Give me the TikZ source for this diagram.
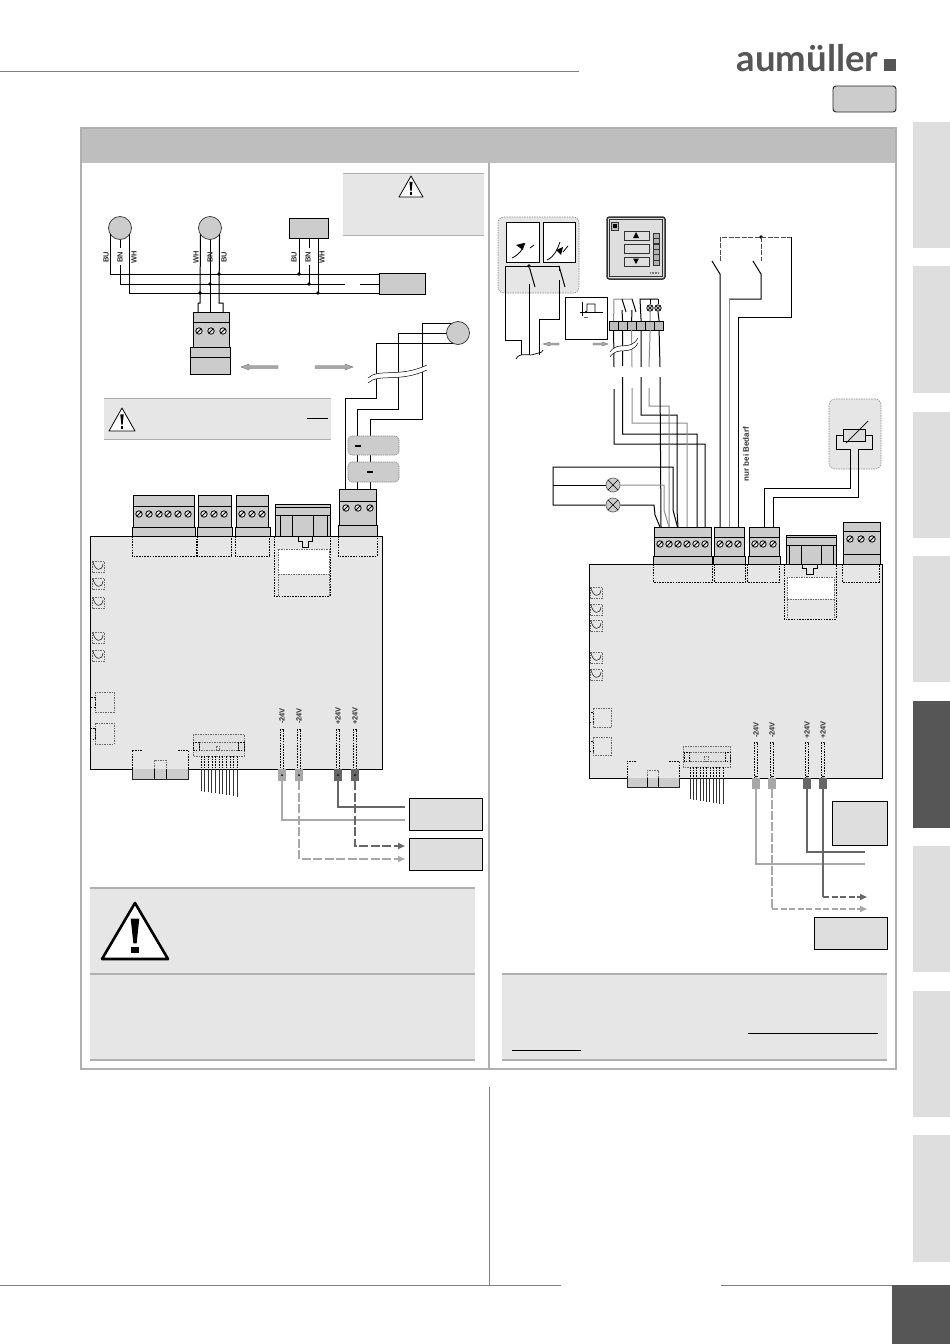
\documentclass[tikz,border=0pt]{standalone}
\usepackage{fontspec}
\setmainfont{Liberation Sans}
\newfontfamily\logofont{Lato}
\usetikzlibrary{arrows.meta}
\definecolor{cFrame}{HTML}{B0B0B0}
\definecolor{cHead}{HTML}{BEBEBE}
\definecolor{cPanel}{HTML}{E6E6E6}
\definecolor{cTab}{HTML}{DEDEDE}
\definecolor{cDark}{HTML}{565656}
\definecolor{cComp}{HTML}{CCCCCC}
\definecolor{cWireG}{HTML}{8C8C8C}
\definecolor{cLG}{HTML}{A8A8A8}
\definecolor{cDG}{HTML}{666666}
\newcommand\boxn[6][]{%
  \pgfmathsetmacro\boxw{#5-(#3)}\pgfmathsetmacro\boxh{#6-(#4)}%
  \pgfmathsetmacro\boxx{(#3+#5)/2}\pgfmathsetmacro\boxy{(#4+#6)/2}%
  \node[rectangle,inner sep=0pt,outer sep=0pt,minimum width=\boxw pt,minimum height=\boxh pt,#1] (#2) at (\boxx,\boxy) {};}
\newcommand\screw[2]{\filldraw[fill=black!8,draw=black,line width=.8pt] (#1,#2) circle (3.2);
  \draw[line width=.95pt] ({#1-2.2},{#2+2.2}) -- ({#1+2.2},{#2-2.2});}
\newcommand\warntri[5]{\draw[fill=white,line join=round,line width=#5] (#1,#2) -- ({#1-#3},{#2+#4}) -- ({#1+#3},{#2+#4}) -- cycle;
  \fill[black] ({#1-.13*#3},{#2+.28*#4}) -- ({#1+.13*#3},{#2+.28*#4}) -- ({#1+.05*#3},{#2+.72*#4}) -- ({#1-.05*#3},{#2+.72*#4}) -- cycle;
  \fill[black] ({#1-.11*#3},{#2+.78*#4}) rectangle ({#1+.11*#3},{#2+.9*#4});}
\newcommand\ledb[2]{\draw[dashb] (#1,#2) rectangle ({#1+12},{#2+11.5});
  \draw[line width=.6pt,draw=black!85] ({#1+1},{#2+1}) .. controls ({#1+3},{#2+10}) and ({#1+10},{#2+11}) .. ({#1+11},{#2+3});}
\newcommand\termb[9]{%
  \boxn[comp]{#1}{#2}{#4}{#3}{#6}
  \draw[comp line] (#2,#5) -- (#3,#5);
  \boxn[comp]{#1b}{#8}{#6}{#9}{#7}}
\tikzset{
  wire/.style={line width=1pt,draw=black,line join=miter},
  gwire/.style={line width=1pt,draw=cWireG},
  comp/.style={draw=black,fill=cComp,line width=.9pt},
  comp line/.style={draw=black,line width=.9pt},
  motor/.style={circle,draw=black!80,fill=cComp,line width=.7pt,minimum size=23pt,inner sep=0pt,outer sep=0pt},
  dashk/.style={draw=black,line width=.8pt,dash pattern=on 1.6pt off 1.1pt},
  dashb/.style={draw=black!60,line width=.65pt,dash pattern=on 1.5pt off 1pt},
  pcb/.style={draw=black,fill=cPanel,line width=.9pt},
  dot/.style={fill=black,circle,inner sep=0pt,minimum size=3.8pt},
  lbl/.style={font=\fontsize{7.5}{8}\selectfont\bfseries,text=black!80,rotate=90,inner sep=.6pt},
  hwire/.style={line width=2.7pt},
  hwirer/.style={line width=2.2pt},
  arrtip/.style={-{Triangle[length=7pt,width=6pt]}},
  softbox/.style={fill=cComp,draw=black!45,line width=.6pt,dash pattern=on 1.5pt off .7pt,rounded corners=4pt},
  areabox/.style={fill=cPanel,draw=black!45,line width=.6pt,dash pattern=on 1.5pt off 1pt,rounded corners=6pt},
  lamp/.style={circle,draw=black!60,fill=cComp,line width=.7pt,minimum size=14pt,inner sep=0pt},
  lampS/.style={circle,draw=black,fill=cComp,line width=.7pt,minimum size=6.5pt,inner sep=0pt},
  grarrow/.style={fill=cLG,draw=black!55,line width=.4pt},
}
\begin{document}
\begin{tikzpicture}[x=1pt,y=-1pt]
\useasboundingbox (0,0) rectangle (950,1344);
\fill[white] (0,0) rectangle (950,1344);
% page furniture
\draw[black!50,line width=1pt] (0,71) -- (579,71);
\node[anchor=base west,inner sep=0pt,text=cDark,font=\logofont\fontsize{36.5}{37}\selectfont\bfseries] (logo) at (736.5,71) {aumüller};
\fill[cDark] (884,59) rectangle (896,71);
\draw[black!85,fill=cComp,rounded corners=3pt,line width=.9pt] (833,86) rectangle (896,112);
\foreach \a/\b in {122/248,266/393,412/538,556/682,846/972,991/1117,1135/1262}
  \fill[cTab] (913,\a) rectangle (950,\b);
\fill[cDark] (913,701) rectangle (950,828);
\draw[black!50,line width=.9pt] (0,1285) -- (561,1285) (721,1285) -- (892,1285);
\draw[black!50,line width=.9pt] (489,1087) -- (489,1285);
\fill[cDark] (892,1285) rectangle (950,1344);
% frame
\fill[cHead] (81,128) rectangle (896,163);
\draw[cFrame,line width=2pt] (81,128) rectangle (896,1069);
\draw[cFrame,line width=2pt] (489,163) -- (489,1069);
% ========== LEFT ==========
\fill[cPanel] (343,173) rectangle (484,235);
\draw[cFrame,line width=1pt] (343,173) -- (484,173) (343,235) -- (484,235);
\warntri{411}{176}{12}{21}{.8pt}
\node[motor] (M1) at (120,228) {};
\node[motor] (M2) at (210,228) {};
\boxn[comp]{SB}{289}{218}{328}{238}
\boxn[comp,draw=black,line width=.9pt]{MB}{379}{273}{425}{294}
\coordinate (mbU) at (379,274); \coordinate (mbN) at (379,284); \coordinate (mbW) at (379,293);
\termb{TL}{193}{229}{312}{322}{347}{374}{190}{230}
\draw[comp line] (190,357) -- (230,357);
\foreach \x in {199,211,223} {\screw{\x}{331}}
% bus
\draw[wire] (M1.214) |- (mbU);
\draw[wire] (M1.270) -- (120,248) (120,265) -- (120,284) -- (345,284) (360,284) -- (mbN);
\draw[wire] (M1.326) |- (mbW);
\draw[wire] (M2.214) -- (200,303) -- (198,303) -- (198,312);
\draw[wire] (M2.270) -- (210,312);
\draw[wire] (M2.326) -- (219,303) -- (223,303) -- (223,312);
\draw[wire] (299,238) -- (299,274);
\draw[wire] (309,238) -- (309,248) (309,265) -- (309,284);
\draw[wire] (318,238) -- (318,293);
\foreach \n/\p in {a/{200,293},b/{210,284},c/{219,274},d/{299,274},e/{309,284},f/{318,293}}
  \node[dot] (j\n) at (\p) {};
\node[lbl] (l1) at (106,257) {BU};
\node[lbl] (l2) at (120,257) {BN};
\node[lbl] (l3) at (134,257) {WH};
\node[lbl] (l4) at (196,257) {WH};
\node[lbl] (l5) at (210,257) {BN};
\node[lbl] (l6) at (224,257) {BU};
\node[lbl] (l7) at (294,257) {BU};
\node[lbl] (l8) at (308,257) {BN};
\node[lbl] (l9) at (322,257) {WH};
% arrows
\filldraw[grarrow] (278,365.5) -- (249,365.5) -- (249,364) -- (241,367) -- (249,370) -- (249,368.5) -- (278,368.5) -- cycle;
\filldraw[grarrow] (315,365.5) -- (345,365.5) -- (345,364) -- (353,367) -- (345,370) -- (345,368.5) -- (315,368.5) -- cycle;
% right motor
\coordinate (te1) at (345,489); \coordinate (te2) at (357,489); \coordinate (te3) at (370,489);
\draw[wire] (458,343) -- (376,343) -- (376,398) -- (345,398) -- (te1);
\draw[wire] (458,333) -- (398,333) -- (398,409) -- (357,409) -- (te2);
\draw[wire] (458,323) -- (422,323) -- (422,419) -- (370,419) -- (te3);
\node[motor] (M3) at (458,333) {};
\fill[white] (368,378) .. controls (378,368) and (400,378) .. (427,365) -- (427,370) .. controls (400,383) and (378,373) .. (368,383) -- cycle;
\draw[black,line width=.5pt] (368,378) .. controls (378,368) and (400,378) .. (427,365)
  (368,383) .. controls (378,373) and (400,383) .. (427,370);
\boxn[softbox]{SA}{348}{436}{399}{455}
\boxn[softbox]{SC}{348}{462}{399}{482}
\fill[black] (355,445) rectangle (361,447);
\fill[black] (367,471) rectangle (373,473);
% warning 2
\fill[cPanel] (104,398) rectangle (331,439);
\draw[cFrame,line width=.8pt] (104,398) -- (331,398) (104,439) -- (331,439);
\warntri{122}{408}{13}{23}{.8pt}
\draw[black,line width=.7pt] (307,418) -- (328,418);
% PCB left
\boxn[pcb]{PL}{90}{536}{382}{769}
\termb{A}{133}{194}{495}{506}{527}{536}{132}{195}
\termb{B}{198}{231}{495}{506}{527}{536}{197}{232}
\termb{C}{236}{268}{495}{506}{527}{536}{235}{270}
\termb{E}{339}{376}{489}{501}{525}{536}{338}{377}
\foreach \x in {139,149,159,168,178,188,204,214,224,242,252,262} {\screw{\x}{514}}
\foreach \x in {346,358,370} {\screw{\x}{508}}
\boxn[comp,line width=.8pt]{D}{275}{504}{330}{536}
\draw[comp line] (275,507) -- (330,507) (275,515) -- (330,515);
\draw[comp line] (280,515) -- (280,536) (292,515) -- (292,536) (313,515) -- (313,536) (327,515) -- (327,536);
\foreach \a/\b in {132/196,197/231,235/269,338/377} \draw[dashk] (\a,536) -- (\a,556) -- (\b,556) -- (\b,536);
\draw[dashk] (274,536) -- (274,596) -- (330,596) -- (330,536);
\fill[white] (278,549) rectangle (329,574);
\draw[dashb] (278,549) rectangle (329,574) (278,574) -- (278,596) (329,574) -- (329,596);
\draw[line width=.5pt] (298,536) -- (298,541) -- (302,541) -- (302,547) -- (308,547) -- (308,541) -- (312,541) -- (312,536);
\foreach \y in {561,578,597,632,650} {\ledb{92}{\y}}
\draw[dashb] (95,692) rectangle (114,712) (95,723) rectangle (114,744);
\draw[dashk] (90,697) rectangle (95,707) (90,728) rectangle (95,739);
\draw[dashk] (142,750) -- (132,750) -- (132,769) (178,750) -- (188,750) -- (188,769);
\boxn[fill=cComp]{BL}{132}{769}{188}{779}
\draw[black!85,line width=.9pt] (132,769) -- (132,779) -- (188,779) -- (188,769);
\draw[dashb] (154,769) -- (154,760) -- (166,760) -- (166,769);
\draw[line width=.7pt] (154,769) -- (154,779) (166,769) -- (166,779);
\draw[dashb,fill=black!12] (193,734) rectangle (244,756);
\draw[dashb] (199,742) rectangle (238,750);
\draw[dashk] (193,742) rectangle (199,750) (238,742) rectangle (244,750);
\draw[dashb] (216,746) rectangle (219,750);
\foreach \i in {0,...,10} {
  \pgfmathsetmacro\xx{201+\i*3.6}
  \pgfmathsetmacro\yy{791+\i*.55}
  \draw[dashk,line width=.6pt] (\xx,756) -- (\xx,769);
  \draw[line width=.7pt,black!80] (\xx,769) -- (\xx,\yy);
}
% pins left
\foreach \x/\t/\c in {282/-24V/cLG,299/-24V/cLG,338/+24V/cDG,355/+24V/cDG} {
  \draw[dashk] ({\x-1.8},729) rectangle ({\x+1.8},769);
  \node[lbl] at (\x,716) {\t};
  \fill[\c] ({\x-4.2},769) rectangle ({\x+4.2},781);
  \fill[black] (\x,775) circle (1);
}
\boxn[fill=cTab,draw=black,line width=.9pt]{RA}{409}{798}{482}{830}
\boxn[fill=cTab,draw=black,line width=.9pt]{RB}{409}{838}{482}{870}
\coordinate (ra1) at (405,807); \coordinate (ra2) at (405,820); \coordinate (rb1) at (405,846); \coordinate (rb2) at (405,859);
\draw[hwire,draw=cDG] (338,781) |- (ra1);
\draw[hwire,draw=cLG] (282,781) |- (ra2);
\draw[hwire,draw=cDG,dash pattern=on 9pt off 2.5pt,arrtip] (355,781) |- (rb1);
\draw[hwire,draw=cLG,dash pattern=on 9pt off 2.5pt,arrtip] (299,781) |- (rb2);
% big warning
\fill[cPanel] (90,888) rectangle (475,1060);
\draw[cFrame,line width=2pt] (90,888) -- (475,888) (90,974) -- (475,974) (90,1060) -- (475,1060);
\warntri{135}{903}{33}{56}{2.6pt}
% ========== RIGHT ==========
\fill[cPanel] (502,974) rectangle (887,1060);
\draw[cFrame,line width=2pt] (502,974) -- (887,974) (502,1060) -- (887,1060);
\draw[black,line width=.8pt] (748,1033) -- (878,1033) (512,1050) -- (581,1050);
% switches area
\boxn[areabox]{SWA}{498}{217}{579}{293}
\boxn[fill=white,draw=black,line width=.9pt]{S1}{506}{222}{539}{262}
\boxn[fill=white,draw=black,line width=.9pt]{S2}{543}{222}{575}{262}
\draw[line width=.8pt] (512,258) .. controls (520,254) and (522,250) .. (525,243) (530,248) -- (534,245);
\fill[black] (516,245) -- (524,243) -- (523,250) -- cycle;
\draw[line width=.8pt] (547,260) .. controls (555,256) and (557,250) .. (560,242) (563,252) -- (568,246);
\fill[black] (556,250) -- (563,247) -- (561,255) -- cycle;
\coordinate (wb1) at (521,355); \coordinate (wb2) at (529,355); \coordinate (wb3) at (539,355);
\draw[wire] (505,266) -- (505,340) -- (521,340) -- (wb1);
\draw[wire] (505,266) -- (559,266) -- (559,271);
\node[dot] (jsw) at (529,266) {};
\draw[wire] (jsw) -- (535,287);
\draw[wire] (559,266) -- (565,287);
\draw[wire] (529,284) -- (wb2);
\draw[wire] (559,280) -- (559,319) -- (539,319) -- (wb3);
\draw[black,line width=.7pt] (516,359) .. controls (520,351) and (530,357) .. (535,354) .. controls (540,352) and (541,354) .. (543,350);
% keypad
\boxn[fill=cTab,draw=black!80,line width=1.5pt,rounded corners=2.5pt]{KP}{607}{217}{665}{279}
\draw[black!80,line width=.6pt] (609.5,219.5) rectangle (662.5,276.5);
\draw[black!80,line width=.6pt,fill=black!25] (611,222) rectangle (618,230);
\fill[black] (613,224) rectangle (617,228);
\foreach \a/\b in {231/240,244/253,257/266} \draw[black!80,line width=.6pt] (624,\a) rectangle (649,\b);
\fill[black] (636,232) -- (633,238) -- (639,238) -- cycle;
\fill[black] (636,264) -- (633,258.5) -- (639,258.5) -- cycle;
\foreach \y in {233,238.4,243.8,249.2,254.6,260} \draw[black!80,fill=black!30,line width=.5pt] (653,\y) rectangle (659,{\y+5.3});
\draw[black!55,line width=2pt,dash pattern=on 1pt off .5pt] (650,273) -- (658,273);
% pulse box
\boxn[fill=white,draw=black,line width=.9pt]{PU}{565}{297}{607}{339}
\draw[line width=.7pt] (582,302) -- (582,316) (580,312) -- (603,312);
\draw[line width=.9pt] (585,312) -- (587,311) -- (587,304) -- (595,304) -- (595,312);
\draw[black!60,line width=.6pt] (584,317.5) -- (588,317.5);
\filldraw[grarrow] (559,343) -- (550,343) -- (550,342) -- (543,344) -- (550,346) -- (550,345) -- (559,345) -- cycle;
\filldraw[grarrow] (593,343) -- (602,343) -- (602,342) -- (608,344) -- (602,346) -- (602,345) -- (593,345) -- cycle;
% strip
\foreach \i/\x/\n in {0/609/1,1/618/2,2/627/3,3/636.5/4,4/645.5/5,5/654.5/6} {
  \pgfmathsetmacro\xe{\x+9.2}
  \boxn[fill=cHead,draw=black,line width=.6pt]{T\n}{\x}{321}{\xe}{330}
}
\draw[draw=cWireG,line width=1pt] (T1.north) -- (614,299) -- (632,299);
\draw[wire] (622,299) -- (626,312) (622,310) -- (T2.north);
\draw[wire] (632,299) -- (636,312) (632,310) -- (T3.north);
\draw[wire] (T4.north) -- (640,299) -- (658,299);
\node[lampS] (L1) at (650,308) {};
\node[lampS] (L2) at (658,308) {};
\draw[line width=.5pt] (L1.45) -- (L1.225) (L1.135) -- (L1.315) (L2.45) -- (L2.225) (L2.135) -- (L2.315);
\draw[wire] (650,299) -- (L1.north) (658,299) -- (L2.north);
\draw[gwire] (L1.south) -- (T5.north);
\draw[wire] (L2.south) -- (T6.north);
% long wires from strip
\coordinate (t1) at (705,527); \coordinate (t2) at (697,527); \coordinate (t3) at (687,527);
\coordinate (t4) at (678,527); \coordinate (t5) at (669,527); \coordinate (t6) at (661,527);
\draw[wire] (T1.south) -- (614,367) (614,389) -- (614,444) -| (t1);
\draw[wire] (T2.south) -- (622.5,366) (622.5,377) -- (622.5,434) -| (t2);
\draw[gwire] (T3.south) -- (632,367) (632,388) -- (632,423) -| (t3);
\draw[wire] (T4.south) -- (641,367) (641,377) -- (641,415) -- (677,415) -- (677,510) -- (t4);
\draw[gwire] (T5.south) -- (649,367) (649,388) -- (649,406) -- (669,406) -- (t5);
\draw[wire] (T6.south) -- (660,367) (660,377) -- (t6);
\fill[white] (610,352) .. controls (618,340) and (630,352) .. (638,338) -- (638,343) .. controls (630,357) and (618,345) .. (610,357) -- cycle;
\draw[black,line width=.5pt] (610,352) .. controls (618,340) and (630,352) .. (638,338)
  (610,357) .. controls (618,345) and (630,357) .. (638,343);
% lamps
\node[lamp] (LA) at (613,485) {};
\node[lamp] (LB) at (613,505) {};
\draw[line width=.5pt] (LA.45) -- (LA.225) (LA.135) -- (LA.315) (LB.45) -- (LB.225) (LB.135) -- (LB.315);
\draw[wire] (LA.west) -- (553,485);
\draw[wire] (LB.west) -- (553,505) -- (553,467) -- (673,467) -- (673,510) -- (677.5,527);
\draw[gwire] (LA.east) -- (664,485) -- (664,510) -- (669,527);
\draw[wire] (LB.east) -- (654,505) -- (655,515) -- (660,527);
% right switches
\node[dot] (jtop) at (761,237) {};
\draw[black!70,line width=.9pt,dash pattern=on 5pt off 1.5pt] (720,261) -- (720,237) -- (791,237) (761,237) -- (761,261);
\draw[wire] (791,237) -- (791,317) -- (738,317) -- (738,527);
\draw[wire] (712,261) -- (720,274) -- (720,527);
\draw[wire] (753,261) -- (761,274) -- (761,299) -- (729,299);
\draw[gwire] (729,299) -- (729,527);
\node[font=\fontsize{8}{9}\selectfont\bfseries,rotate=90,text=black!80,inner sep=0pt] (bedarf) at (746,454) {nur bei Bedarf};
% sensor
\boxn[areabox]{SN}{829}{399}{881}{469}
\boxn[fill=cTab,draw=black,line width=.8pt]{SR}{843}{429}{865}{441}
\draw[line width=.7pt] (846,443) -- (868,421);
\draw[wire] (SR.west) -- (836,435) -- (836,449) -- (850,449) -- (850,488) -- (764,488) -- (764,527);
\draw[wire] (SR.east) -- (872,435) -- (872,449) -- (858,449) -- (858,497) -- (773,497) -- (773,527);
% PCB right
\boxn[pcb]{PR}{589}{564}{882}{778}
\termb{AA}{654}{711}{527}{537}{556}{564}{653}{712}
\termb{BB}{714}{744}{527}{537}{556}{564}{713}{745}
\termb{CC}{749}{779}{527}{537}{556}{564}{748}{780}
\termb{EE}{843}{880}{522}{531}{554}{564}{843}{880}
\foreach \x in {660,669,678,687,696,705,720,729,738,755,763,773} {\screw{\x}{544}}
\foreach \x in {850,861,872} {\screw{\x}{539}}
\boxn[comp]{DD}{786}{535}{836}{564}
\draw[comp line] (786,537) -- (836,537) (786,545) -- (836,545);
\draw[comp line] (789,545) -- (789,564) (801,545) -- (801,564) (821,545) -- (821,564) (833,545) -- (833,564);
\foreach \a/\b in {653/712,714/745,747/779,842/879} \draw[dashk] (\a,564) -- (\a,582) -- (\b,582) -- (\b,564);
\draw[dashk] (784,564) -- (784,619) -- (836,619) -- (836,564);
\fill[white] (787,577) rectangle (834,599);
\draw[dashb] (787,577) rectangle (834,599) (787,599) -- (787,619) (834,599) -- (834,619);
\draw[line width=.5pt] (802,564) -- (802,568) -- (806,568) -- (806,574) -- (813,574) -- (813,568) -- (817,568) -- (817,564);
\foreach \y in {587,604,620,652,669} {\ledb{590}{\y}}
\draw[dashb] (593,708) rectangle (611,727) (593,737) rectangle (611,755);
\draw[dashk] (589,712) rectangle (593,722) (589,741) rectangle (593,751);
\draw[dashk] (636,761) -- (627,761) -- (627,778) (669,761) -- (679,761) -- (679,778);
\boxn[fill=cComp]{BR}{627}{778}{679}{787}
\draw[black!85,line width=.9pt] (627,778) -- (627,787) -- (679,787) -- (679,778);
\draw[dashb] (647,778) -- (647,770) -- (658,770) -- (658,778);
\draw[line width=.7pt] (647,778) -- (647,787) (658,778) -- (658,787);
\draw[dashb,fill=black!12] (683,746) rectangle (730,767);
\draw[dashb] (689,752) rectangle (725,761);
\draw[dashk] (684,752) rectangle (689,761) (725,752) rectangle (730,761);
\draw[dashb] (704,756) rectangle (708,761);
\foreach \i in {0,...,10} {
  \pgfmathsetmacro\xx{690+\i*3.3}
  \pgfmathsetmacro\yy{799+\i*.5}
  \draw[dashk,line width=.6pt] (\xx,767) -- (\xx,778);
  \draw[line width=.7pt,black!80] (\xx,778) -- (\xx,\yy);
}
\foreach \x/\t/\c in {756/-24V/cLG,772/-24V/cLG,807/+24V/cDG,823/+24V/cDG} {
  \draw[dashk] ({\x-1.8},742) rectangle ({\x+1.8},778);
  \node[lbl] at (\x,730) {\t};
  \fill[\c] ({\x-4},778) rectangle ({\x+4},789);
  \fill[black] (\x,776.5) circle (1);
}
\boxn[fill=cTab,draw=black,line width=.9pt]{RC}{832}{801}{887}{845}
\boxn[fill=cTab,draw=black,line width=.9pt]{RD}{814}{917}{887}{949}
\coordinate (rc1) at (865,852); \coordinate (rc2) at (865,864); \coordinate (rd1) at (867,897); \coordinate (rd2) at (867,909);
\draw[hwirer,draw=cDG] (807,789) |- (rc1);
\draw[hwirer,draw=cLG] (756,789) |- (rc2);
\draw[hwirer,draw=cDG] (823,789) -- (823,897);
\draw[hwirer,draw=cDG,dash pattern=on 6pt off 2.5pt,arrtip] (823,897) -- (rd1);
\draw[hwirer,draw=cLG,dash pattern=on 9pt off 2pt] (772,789) -- (772,909);
\draw[hwirer,draw=cLG,dash pattern=on 6pt off 2.5pt,arrtip] (772,909) -- (rd2);
\end{tikzpicture}
\end{document}
